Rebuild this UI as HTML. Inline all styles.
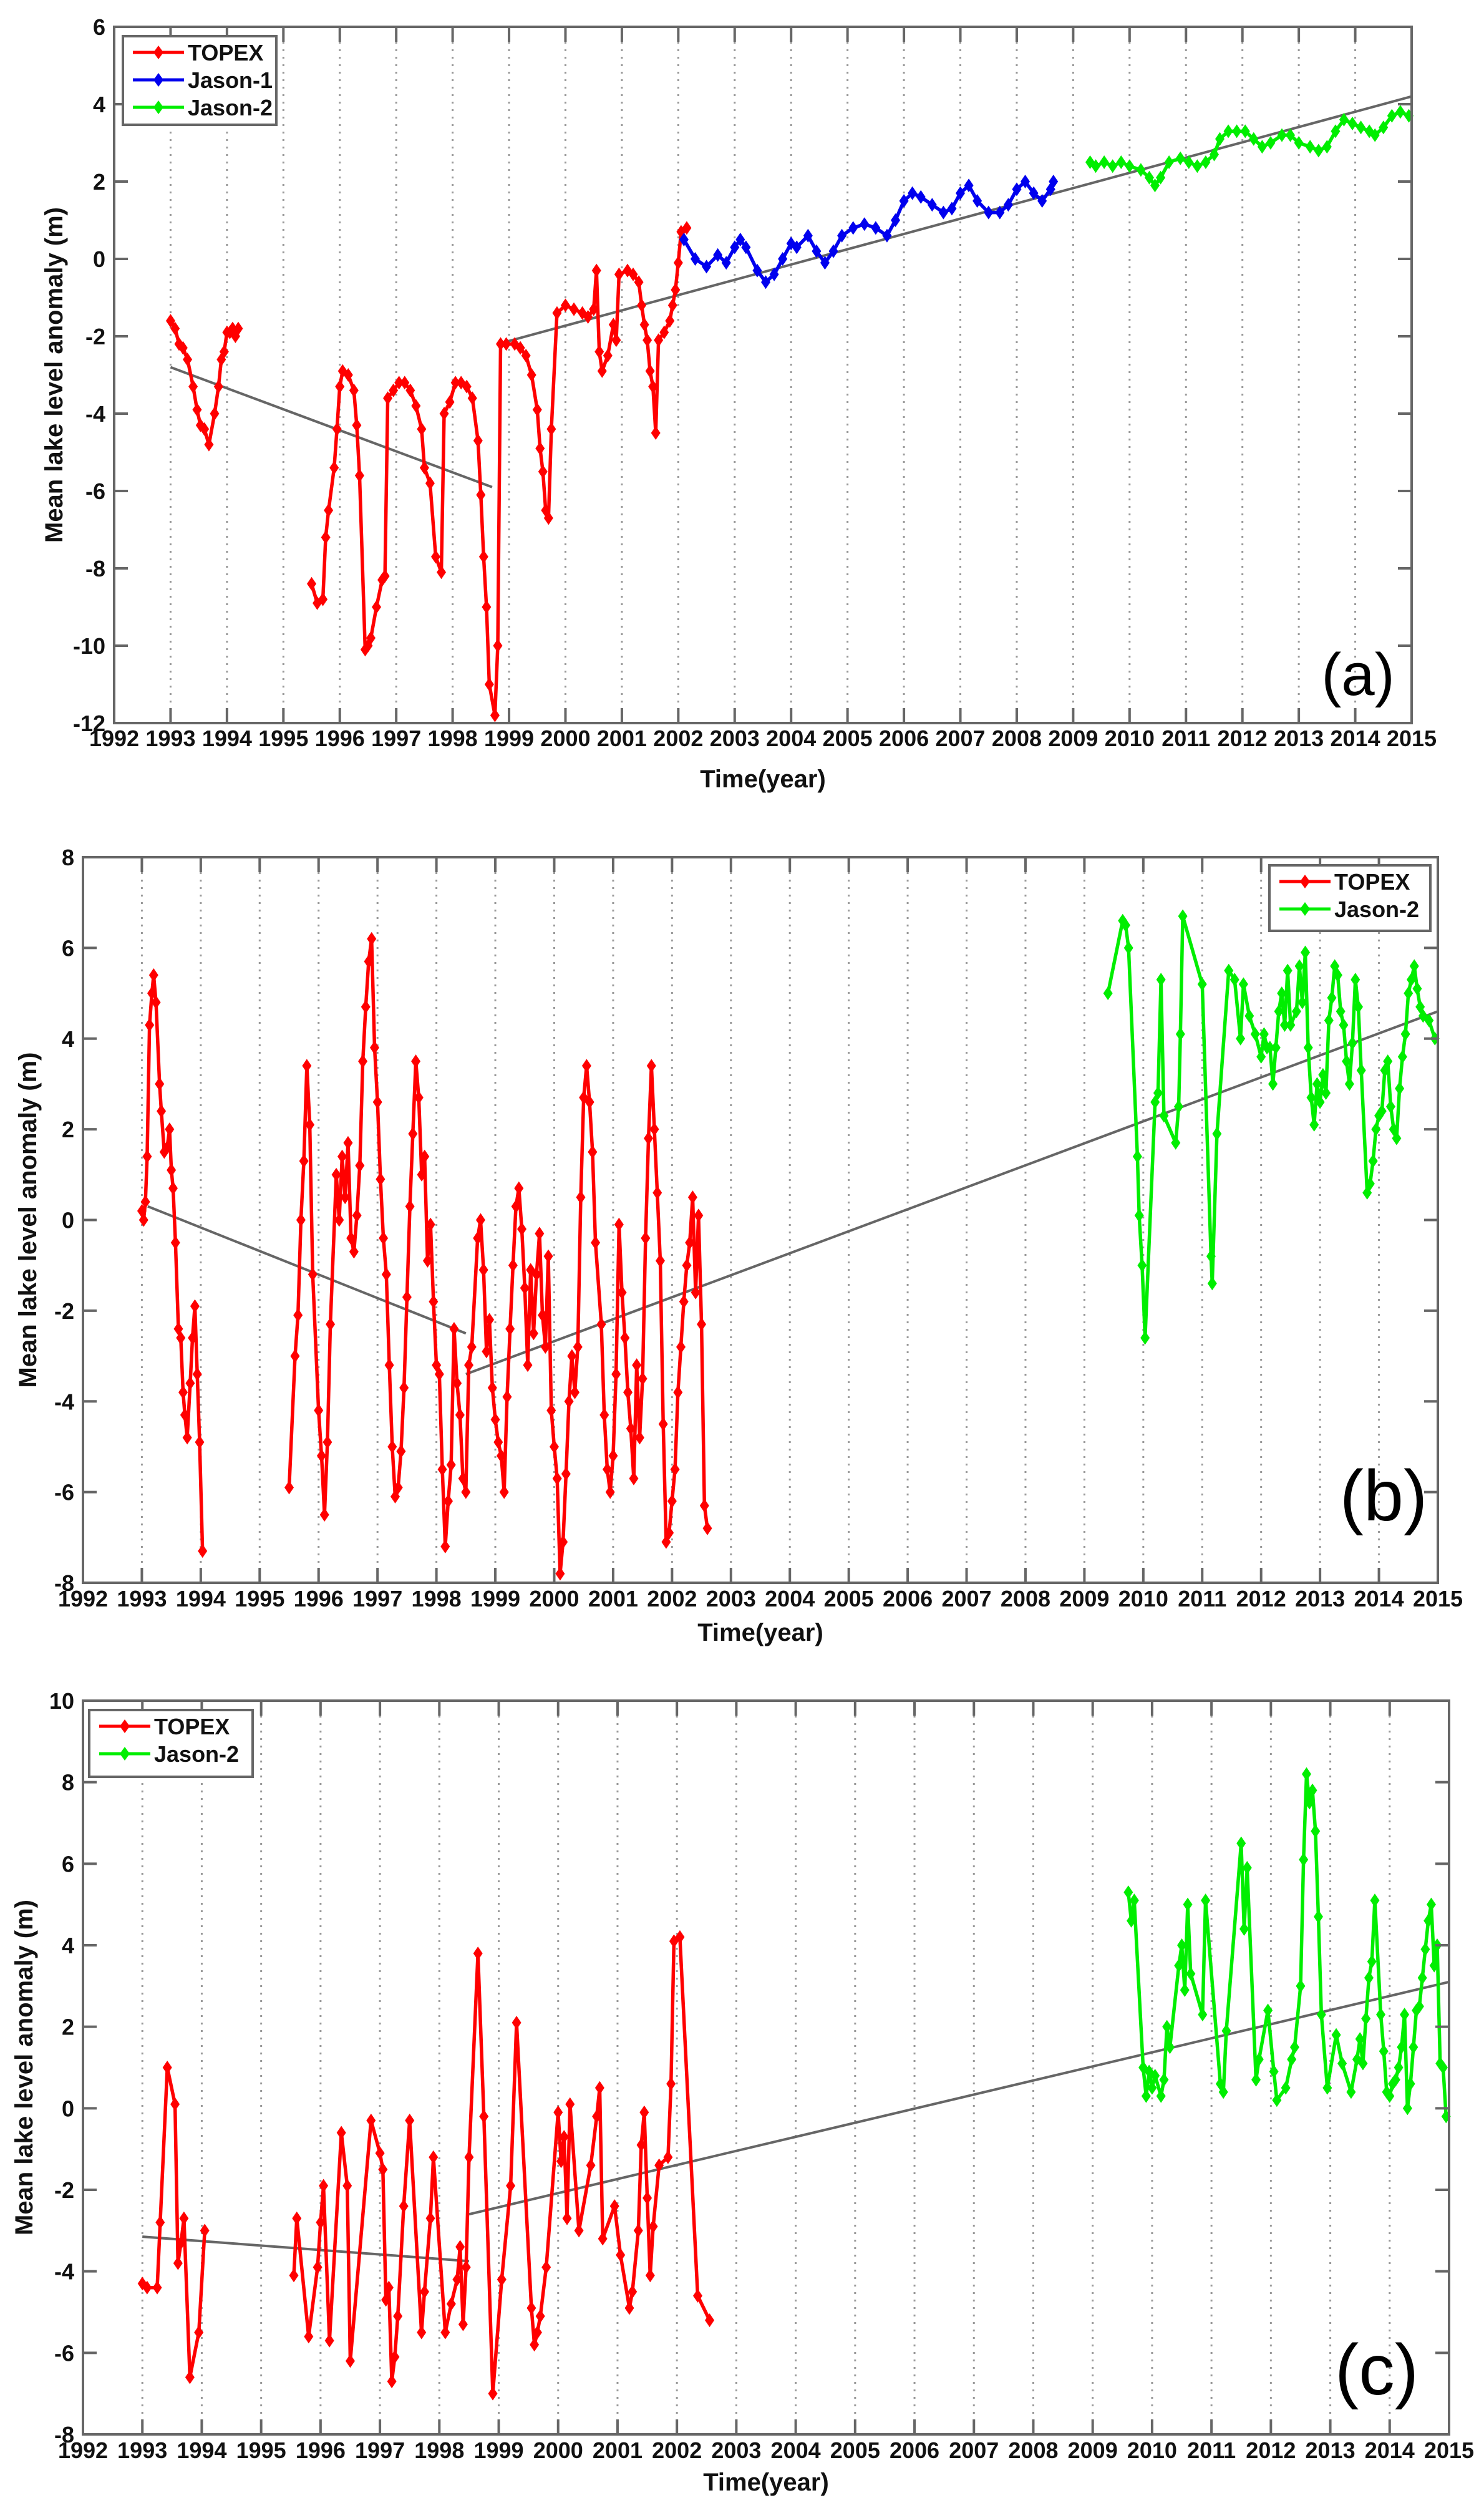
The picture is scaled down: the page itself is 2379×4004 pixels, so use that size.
<!DOCTYPE html>
<html><head><meta charset="utf-8">
<style>
html,body{margin:0;padding:0;background:#fff;}
svg{display:block;}
text{font-family:"Liberation Sans",Arial,sans-serif;}
</style></head>
<body>
<svg id="fig" width="2379" height="4004" viewBox="0 0 2379 4004" xmlns="http://www.w3.org/2000/svg"></svg>
<script>
// ---------- Panel (a) data ----------
const aTopexYears=[1993.0,1993.08,1993.15,1993.22,1993.3,1993.4,1993.47,1993.53,1993.6,1993.68,1993.78,1993.85,1993.9,1993.95,1994.0,1994.05,1994.1,1994.15,1994.2,
1995.5,1995.6,1995.7,1995.75,1995.8,1995.9,1995.95,1996.0,1996.05,1996.15,1996.25,1996.3,1996.35,1996.45,1996.5,1996.55,1996.65,1996.75,1996.8,1996.85,1996.95,1997.05,1997.15,1997.25,1997.35,1997.45,1997.5,1997.6,1997.7,1997.8,1997.85,1997.95,1998.05,1998.15,1998.25,1998.35,1998.45,1998.5,1998.55,1998.6,1998.65,1998.75,1998.8,1998.85,1998.95,1999.1,1999.2,1999.3,1999.4,1999.5,1999.55,1999.6,1999.65,1999.7,1999.75,1999.85,2000.0,2000.15,2000.3,2000.4,2000.5,2000.55,2000.6,2000.65,2000.75,2000.85,2000.9,2000.95,2001.1,2001.2,2001.3,2001.35,2001.4,2001.45,2001.5,2001.55,2001.6,2001.65,2001.75,2001.85,2001.9,2001.95,2002.0,2002.05,2002.15];
const aTopexValues=[-1.6,-1.8,-2.2,-2.3,-2.6,-3.3,-3.9,-4.3,-4.4,-4.8,-4.0,-3.3,-2.6,-2.4,-1.9,-1.9,-1.8,-2.0,-1.8,
-8.4,-8.9,-8.8,-7.2,-6.5,-5.4,-4.4,-3.3,-2.9,-3.0,-3.4,-4.3,-5.6,-10.1,-10.0,-9.8,-9.0,-8.3,-8.2,-3.6,-3.4,-3.2,-3.2,-3.4,-3.8,-4.4,-5.4,-5.8,-7.7,-8.1,-4.0,-3.7,-3.2,-3.2,-3.3,-3.6,-4.7,-6.1,-7.7,-9.0,-11.0,-11.8,-10.0,-2.2,-2.2,-2.2,-2.3,-2.5,-3.0,-3.9,-4.9,-5.5,-6.5,-6.7,-4.4,-1.4,-1.2,-1.3,-1.4,-1.5,-1.3,-0.3,-2.4,-2.9,-2.5,-1.7,-2.1,-0.4,-0.3,-0.4,-0.6,-1.2,-1.7,-2.1,-2.9,-3.3,-4.5,-2.1,-1.9,-1.6,-1.2,-0.8,-0.1,0.7,0.8];
const aJason1Years=[2002.1,2002.3,2002.5,2002.7,2002.85,2003.0,2003.1,2003.2,2003.4,2003.55,2003.7,2003.85,2004.0,2004.1,2004.3,2004.45,2004.6,2004.75,2004.9,2005.1,2005.3,2005.5,2005.7,2005.85,2006.0,2006.15,2006.3,2006.5,2006.7,2006.85,2007.0,2007.15,2007.3,2007.5,2007.7,2007.85,2008.0,2008.15,2008.3,2008.45,2008.6,2008.65];
const aJason1Values=[0.5,0.0,-0.2,0.1,-0.1,0.3,0.5,0.3,-0.3,-0.6,-0.4,0.0,0.4,0.3,0.6,0.2,-0.1,0.2,0.6,0.8,0.9,0.8,0.6,1.0,1.5,1.7,1.6,1.4,1.2,1.3,1.7,1.9,1.5,1.2,1.2,1.4,1.8,2.0,1.7,1.5,1.8,2.0];
const aJason2Years=[2009.3,2009.4,2009.55,2009.7,2009.85,2010.0,2010.2,2010.35,2010.45,2010.55,2010.7,2010.9,2011.05,2011.2,2011.35,2011.5,2011.6,2011.75,2011.9,2012.05,2012.2,2012.35,2012.5,2012.7,2012.85,2013.0,2013.2,2013.35,2013.5,2013.65,2013.8,2013.95,2014.1,2014.25,2014.35,2014.5,2014.65,2014.8,2014.95];
const aJason2Values=[2.5,2.4,2.5,2.4,2.5,2.4,2.3,2.1,1.9,2.1,2.5,2.6,2.5,2.4,2.5,2.7,3.1,3.3,3.3,3.3,3.1,2.9,3.0,3.2,3.2,3.0,2.9,2.8,2.9,3.3,3.6,3.5,3.4,3.3,3.2,3.4,3.7,3.8,3.7];
const aTrendYears=[1993.0,1998.7,1998.8,2015.0];
const aTrendValues=[-2.8,-5.9,-2.2,4.2];
const aYTicks=[6,4,2,0,-2,-4,-6,-8,-10,-12];

// ---------- Panel (b) data ----------
const bTopexYears=[1993.0,1993.03,1993.06,1993.09,1993.13,1993.17,1993.2,1993.24,1993.3,1993.33,1993.38,1993.43,1993.47,1993.5,1993.53,1993.57,1993.62,1993.66,1993.7,1993.73,1993.77,1993.82,1993.86,1993.9,1993.94,1993.98,1994.03,
1995.5,1995.6,1995.65,1995.7,1995.75,1995.8,1995.85,1995.9,1996.0,1996.05,1996.1,1996.15,1996.2,1996.3,1996.35,1996.4,1996.45,1996.5,1996.55,1996.6,1996.65,1996.7,1996.75,1996.8,1996.85,1996.9,1996.95,1997.0,1997.05,1997.1,1997.15,1997.2,1997.25,1997.3,1997.35,1997.4,1997.45,1997.5,1997.55,1997.6,1997.65,1997.7,1997.75,1997.8,1997.85,1997.9,1997.95,1998.0,1998.05,1998.1,1998.15,1998.2,1998.25,1998.3,1998.35,1998.4,1998.45,1998.5,1998.55,1998.6,1998.7,1998.75,1998.8,1998.85,1998.9,1998.95,1999.0,1999.05,1999.1,1999.15,1999.2,1999.25,1999.3,1999.35,1999.4,1999.45,1999.5,1999.55,1999.6,1999.65,1999.7,1999.75,1999.8,1999.85,1999.9,1999.95,2000.0,2000.05,2000.1,2000.15,2000.2,2000.25,2000.3,2000.35,2000.4,2000.45,2000.5,2000.55,2000.6,2000.65,2000.7,2000.8,2000.85,2000.9,2000.95,2001.0,2001.05,2001.1,2001.15,2001.2,2001.25,2001.3,2001.35,2001.4,2001.45,2001.5,2001.55,2001.6,2001.65,2001.7,2001.75,2001.8,2001.85,2001.9,2001.95,2002.0,2002.05,2002.1,2002.15,2002.2,2002.25,2002.3,2002.35,2002.4,2002.45,2002.5,2002.55,2002.6];
const bTopexValues=[0.2,0.0,0.4,1.4,4.3,5.0,5.4,4.8,3.0,2.4,1.5,1.6,2.0,1.1,0.7,-0.5,-2.4,-2.6,-3.8,-4.3,-4.8,-3.6,-2.6,-1.9,-3.4,-4.9,-7.3,
-5.9,-3.0,-2.1,0.0,1.3,3.4,2.1,-1.2,-4.2,-5.2,-6.5,-4.9,-2.3,1.0,0.0,1.4,0.5,1.7,-0.4,-0.7,0.1,1.2,3.5,4.7,5.7,6.2,3.8,2.6,0.9,-0.4,-1.2,-3.2,-5.0,-6.1,-5.9,-5.1,-3.7,-1.7,0.3,1.9,3.5,2.7,1.0,1.4,-0.9,-0.1,-1.8,-3.2,-3.4,-5.5,-7.2,-6.2,-5.4,-2.4,-3.6,-4.3,-5.7,-6.0,-3.2,-2.8,-0.4,0.0,-1.1,-2.9,-2.2,-3.7,-4.4,-4.9,-5.2,-6.0,-3.9,-2.4,-1.0,0.3,0.7,-0.2,-1.5,-3.2,-1.1,-2.5,-1.2,-0.3,-2.1,-2.8,-0.8,-4.2,-5.0,-5.7,-7.8,-7.1,-5.6,-4.0,-3.0,-3.8,-2.8,0.5,2.7,3.4,2.6,1.5,-0.5,-2.3,-4.3,-5.5,-6.0,-5.2,-3.4,-0.1,-1.6,-2.6,-3.8,-4.6,-5.7,-3.2,-4.8,-3.5,-0.4,1.8,3.4,2.0,0.6,-0.9,-4.5,-7.1,-6.9,-6.2,-5.5,-3.8,-2.8,-1.8,-1.0,-0.5,0.5,-1.6,0.1,-2.3,-6.3,-6.8];
const bJason2Years=[2009.4,2009.65,2009.7,2009.75,2009.9,2009.93,2009.98,2010.03,2010.2,2010.25,2010.3,2010.35,2010.55,2010.6,2010.63,2010.67,2011.0,2011.15,2011.17,2011.25,2011.45,2011.55,2011.65,2011.7,2011.8,2011.9,2012.0,2012.05,2012.1,2012.15,2012.2,2012.25,2012.3,2012.35,2012.4,2012.45,2012.5,2012.6,2012.65,2012.7,2012.75,2012.8,2012.85,2012.9,2012.95,2013.0,2013.05,2013.1,2013.15,2013.2,2013.25,2013.3,2013.35,2013.4,2013.45,2013.5,2013.55,2013.6,2013.65,2013.7,2013.8,2013.85,2013.9,2013.95,2014.0,2014.05,2014.1,2014.15,2014.2,2014.25,2014.3,2014.35,2014.4,2014.45,2014.5,2014.55,2014.6,2014.65,2014.7,2014.75,2014.85,2014.95];
const bJason2Values=[5.0,6.6,6.5,6.0,1.4,0.1,-1.0,-2.6,2.6,2.8,5.3,2.3,1.7,2.5,4.1,6.7,5.2,-0.8,-1.4,1.9,5.5,5.3,4.0,5.2,4.5,4.1,3.6,4.1,3.8,3.8,3.0,3.8,4.6,5.0,4.3,5.5,4.3,4.6,5.6,4.8,5.9,3.8,2.7,2.1,3.0,2.6,3.2,2.8,4.4,4.9,5.6,5.4,4.6,4.3,3.5,3.0,3.9,5.3,4.7,3.3,0.6,0.8,1.3,2.0,2.3,2.4,3.3,3.5,2.5,2.0,1.8,2.9,3.6,4.1,5.0,5.3,5.6,5.1,4.7,4.5,4.4,4.0];
const bTrendYears=[1993.1,1998.5,1998.5,2015.0];
const bTrendValues=[0.3,-2.5,-3.4,4.6];
const bYTicks=[8,6,4,2,0,-2,-4,-6,-8];

// ---------- Panel (c) data ----------
const cTopexYears=[1993.0,1993.08,1993.25,1993.3,1993.42,1993.55,1993.6,1993.65,1993.7,1993.8,1993.95,1994.05,
1995.55,1995.6,1995.8,1995.95,1996.0,1996.05,1996.15,1996.35,1996.45,1996.5,1996.85,1997.0,1997.05,1997.1,1997.15,1997.2,1997.25,1997.3,1997.4,1997.5,1997.7,1997.75,1997.85,1997.9,1998.1,1998.2,1998.3,1998.35,1998.4,1998.45,1998.5,1998.65,1998.75,1998.9,1999.05,1999.2,1999.3,1999.55,1999.6,1999.65,1999.7,1999.8,2000.0,2000.05,2000.1,2000.15,2000.2,2000.35,2000.55,2000.65,2000.7,2000.75,2000.95,2001.05,2001.2,2001.25,2001.35,2001.4,2001.45,2001.5,2001.55,2001.6,2001.7,2001.85,2001.9,2001.95,2002.05,2002.35,2002.55];
const cTopexValues=[-4.3,-4.4,-4.4,-2.8,1.0,0.1,-3.8,-3.3,-2.7,-6.6,-5.5,-3.0,
-4.1,-2.7,-5.6,-3.9,-2.8,-1.9,-5.7,-0.6,-1.9,-6.2,-0.3,-1.1,-1.5,-4.7,-4.4,-6.7,-6.1,-5.1,-2.4,-0.3,-5.5,-4.5,-2.7,-1.2,-5.5,-4.8,-4.2,-3.4,-5.3,-3.9,-1.2,3.8,-0.2,-7.0,-4.2,-1.9,2.1,-4.9,-5.8,-5.5,-5.1,-3.9,-0.1,-1.3,-0.7,-2.7,0.1,-3.0,-1.4,-0.2,0.5,-3.2,-2.4,-3.6,-4.9,-4.5,-3.0,-0.9,-0.1,-2.2,-4.1,-2.9,-1.4,-1.2,0.6,4.1,4.2,-4.6,-5.2];
const cJason2Years=[2009.6,2009.65,2009.7,2009.85,2009.9,2009.95,2010.0,2010.05,2010.15,2010.2,2010.25,2010.3,2010.45,2010.5,2010.55,2010.6,2010.65,2010.85,2010.9,2011.15,2011.2,2011.25,2011.5,2011.55,2011.6,2011.75,2011.8,2011.95,2012.05,2012.1,2012.25,2012.35,2012.4,2012.5,2012.55,2012.6,2012.65,2012.7,2012.75,2012.8,2012.85,2012.95,2013.1,2013.2,2013.35,2013.45,2013.5,2013.55,2013.6,2013.65,2013.7,2013.75,2013.85,2013.9,2013.95,2014.0,2014.05,2014.1,2014.15,2014.2,2014.25,2014.3,2014.35,2014.4,2014.45,2014.5,2014.55,2014.6,2014.65,2014.7,2014.75,2014.8,2014.85,2014.9,2014.95];
const cJason2Values=[5.3,4.6,5.1,1.0,0.3,0.9,0.5,0.8,0.3,0.7,2.0,1.5,3.5,4.0,2.9,5.0,3.3,2.3,5.1,0.6,0.4,1.9,6.5,4.4,5.9,0.7,1.2,2.4,0.9,0.2,0.5,1.2,1.5,3.0,6.1,8.2,7.5,7.8,6.8,4.7,2.3,0.5,1.8,1.1,0.4,1.2,1.7,1.1,2.2,3.2,3.6,5.1,2.3,1.4,0.4,0.3,0.6,0.7,1.0,1.5,2.3,0.0,0.6,1.5,2.4,2.5,3.2,3.9,4.6,5.0,3.5,4.0,1.1,1.0,-0.2];
const cTrendYears=[1993.0,1998.5,1998.5,2015.0];
const cTrendValues=[-3.15,-3.75,-2.6,3.1];
const cYTicks=[10,8,6,4,2,0,-2,-4,-6,-8];

const xYearTicks=[1992,1993,1994,1995,1996,1997,1998,1999,2000,2001,2002,2003,2004,2005,2006,2007,2008,2009,2010,2011,2012,2013,2014,2015];

const NS='http://www.w3.org/2000/svg';
const svg=document.getElementById('fig');
function mk(tag,attrs,parent){const e=document.createElementNS(NS,tag);for(const k in attrs)e.setAttribute(k,attrs[k]);(parent||svg).appendChild(e);return e;}

const RED='#ff0000',BLUE='#0000ee',GREEN='#00ee00';

function drawPanel(p){
  const g=mk('g',{});
  
  
  const L=p.left,R=p.right,T=p.top,B=p.bottom;
  const x=v=>L+(v-1992)/(2015-1992)*(R-L);
  const y=v=>T+(p.ymax-v)/(p.ymax-p.ymin)*(B-T);
  xYearTicks.forEach(t=>{
    if(t>1992&&t<2015){
      const gl=mk('line',{x1:x(t),x2:x(t),y1:T,y2:B,stroke:'#999','stroke-width':3,'stroke-dasharray':'3 9'},g);
      
      
    }
  });
  for(let i=0;i<p.trendX.length;i+=2){
    const tl=mk('line',{x1:x(p.trendX[i]),y1:y(p.trendY[i]),x2:x(p.trendX[i+1]),y2:y(p.trendY[i+1]),stroke:'#666','stroke-width':4},g);
    
    
  }
  p.series.forEach(s=>{
    let d='';
    for(let i=0;i<s.xs.length;i++){
      const brk=i===0||(s.xs[i]-s.xs[i-1])>0.6;
      d+=(brk?'M':'L')+x(s.xs[i]).toFixed(1)+','+y(s.ys[i]).toFixed(1);
    }
    const sg=mk('g',{},g);
    
    
    mk('path',{d:d,fill:'none',stroke:s.color,'stroke-width':5.5,'stroke-linejoin':'round'},sg);
    for(let i=0;i<s.xs.length;i++){
      const cx=x(s.xs[i]),cy=y(s.ys[i]);
      const pt=mk('polygon',{points:`${cx},${cy-11} ${cx+7.5},${cy} ${cx},${cy+11} ${cx-7.5},${cy}`,fill:s.color},sg);
      
      
    }
  });
  const box=mk('rect',{x:L,y:T,width:R-L,height:B-T,fill:'none',stroke:'#666','stroke-width':4},g);
  
  
  xYearTicks.forEach(t=>{
    mk('line',{x1:x(t),x2:x(t),y1:B,y2:B-24,stroke:'#666','stroke-width':4},g);
    mk('line',{x1:x(t),x2:x(t),y1:T,y2:T+24,stroke:'#666','stroke-width':4},g);
    const tx=mk('text',{x:x(t),y:p.xLabelY,'text-anchor':'middle','font-size':36,'font-weight':'bold',fill:'#111'},g);
    tx.textContent=t;
    
    
  });
  p.yTicks.forEach(t=>{
    mk('line',{x1:L,x2:L+22,y1:y(t),y2:y(t),stroke:'#666','stroke-width':4},g);
    mk('line',{x1:R,x2:R-22,y1:y(t),y2:y(t),stroke:'#666','stroke-width':4},g);
    const ty=mk('text',{x:L-14,y:y(t)+13,'text-anchor':'end','font-size':36,'font-weight':'bold',fill:'#111'},g);
    ty.textContent=t;
    
    
  });
  const xt=mk('text',{x:(L+R)/2,y:p.xTitleY,'text-anchor':'middle','font-size':40,'font-weight':'bold',fill:'#111'},g);
  xt.textContent='Time(year)';
  
  
  const yc=(T+B)/2;
  const yt=mk('text',{x:p.yTitleX,y:yc,'text-anchor':'middle','font-size':40,'font-weight':'bold',fill:'#111',transform:`rotate(-90 ${p.yTitleX} ${yc})`},g);
  yt.textContent='Mean lake level anomaly (m)';
  
  
  const pl=mk('text',{x:p.tagX,y:p.tagY,'text-anchor':'middle','font-size':p.tagSize,fill:'#000'},g);
  pl.textContent='('+p.id+')';
  
  
  const lg=mk('g',{},g);
  
  
  const lb=p.legend;
  mk('rect',{x:lb.x,y:lb.y,width:lb.w,height:lb.h,fill:'#fff',stroke:'#666','stroke-width':4},lg);
  p.series.forEach((s,i)=>{
    const ey=lb.y+26+i*44;
    const le=mk('g',{},lg);
    
    
    mk('line',{x1:lb.x+16,x2:lb.x+98,y1:ey,y2:ey,stroke:s.color,'stroke-width':5},le);
    const cx=lb.x+57;
    mk('polygon',{points:`${cx},${ey-11} ${cx+8},${ey} ${cx},${ey+11} ${cx-8},${ey}`,fill:s.color},le);
    const t=mk('text',{x:lb.x+104,y:ey+13,'font-size':36,'font-weight':'bold',fill:'#111'},le);
    t.textContent=s.name;
  });
}

drawPanel({id:'a',left:183,right:2263,top:43,bottom:1159,ymin:-12,ymax:6,yTicks:aYTicks,
  trendX:aTrendYears,trendY:aTrendValues,xLabelY:1196,xTitleY:1262,yTitleX:100,tagX:2177,tagY:1114,tagSize:96,
  legend:{x:197,y:58,w:246,h:142},
  series:[{name:'TOPEX',color:RED,xs:aTopexYears,ys:aTopexValues},{name:'Jason-1',color:BLUE,xs:aJason1Years,ys:aJason1Values},{name:'Jason-2',color:GREEN,xs:aJason2Years,ys:aJason2Values}]});
drawPanel({id:'b',left:133,right:2305,top:1374,bottom:2537,ymin:-8,ymax:8,yTicks:bYTicks,
  trendX:bTrendYears,trendY:bTrendValues,xLabelY:2575,xTitleY:2630,yTitleX:58,tagX:2218,tagY:2437,tagSize:115,
  legend:{x:2035,y:1387,w:258,h:105},
  series:[{name:'TOPEX',color:RED,xs:bTopexYears,ys:bTopexValues},{name:'Jason-2',color:GREEN,xs:bJason2Years,ys:bJason2Values}]});
drawPanel({id:'c',left:133,right:2323,top:2726,bottom:3902,ymin:-8,ymax:10,yTicks:cYTicks,
  trendX:cTrendYears,trendY:cTrendValues,xLabelY:3940,xTitleY:3992,yTitleX:52,tagX:2207,tagY:3838,tagSize:115,
  legend:{x:143,y:2741,w:262,h:107},
  series:[{name:'TOPEX',color:RED,xs:cTopexYears,ys:cTopexValues},{name:'Jason-2',color:GREEN,xs:cJason2Years,ys:cJason2Values}]});
</script>
</body></html>
